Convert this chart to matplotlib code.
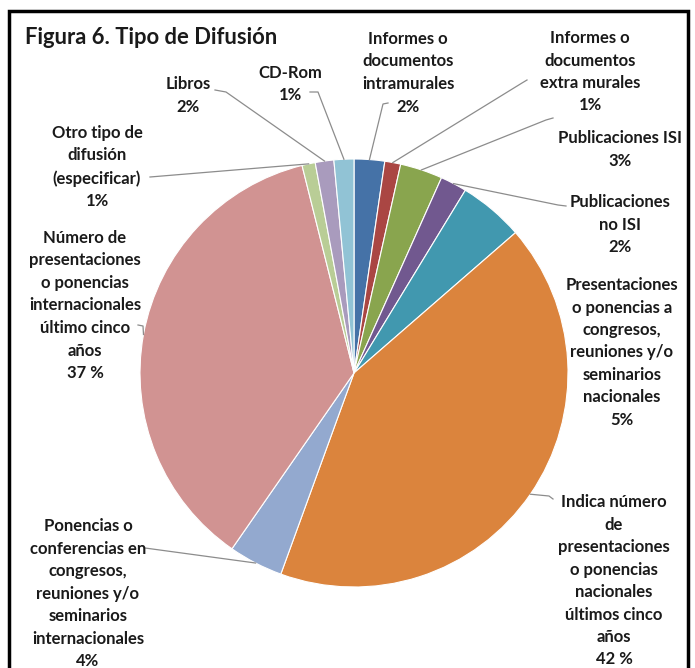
import numpy as np
import matplotlib
matplotlib.use("Agg")
import matplotlib.pyplot as plt

# Datos (porcentajes estimados de la figura, orden horario desde las 12)
categorias = [
    "Informes o\ndocumentos\nintramurales",
    "Informes o\ndocumentos\nextra murales",
    "Publicaciones ISI",
    "Publicaciones\nno ISI",
    "Presentaciones\no ponencias a\ncongresos,\nreuniones y/o\nseminarios\nnacionales",
    "Indica número\nde\npresentaciones\no ponencias\nnacionales\núltimos cinco\naños",
    "Ponencias o\nconferencias en\ncongresos,\nreuniones y/o\nseminarios\ninternacionales",
    "Número de\npresentaciones\no ponencias\ninternacionales\núltimo cinco\naños",
    "Otro tipo de\ndifusión\n(especificar)",
    "Libros",
    "CD-Rom",
]
valores = [2.3, 1.2, 3.2, 2.0, 4.9, 41.9, 4.1, 36.4, 1.0, 1.4, 1.5]
etiquetas_pct = ["2%", "1%", "3%", "2%", "5%", "42 %", "4%", "37 %", "1%", "2%", "1%"]
colores = ["#4572A7", "#AA4643", "#89A54E", "#71588F", "#4198AF", "#DB843D",
           "#93A9CF", "#D19392", "#B9CD96", "#A99BBD", "#91C3D5"]

W, H = 695, 668
fig = plt.figure(figsize=(W / 100, H / 100), dpi=100)
ax = fig.add_axes([0, 0, 1, 1])

def yy(y):
    # coordenadas de imagen -> coordenadas de datos
    return H - y

cx, cy, r = 354, 373, 214
wedges, _ = ax.pie(valores, colors=colores, startangle=90, counterclock=False,
                   center=(cx, yy(cy)), radius=r, frame=True,
                   wedgeprops=dict(linewidth=0.8, edgecolor="white"))
ax.set_xlim(0, W)
ax.set_ylim(0, H)
ax.set_aspect("equal")
ax.axis("off")

# centro de la primera linea de cada texto y arranque de la guia
pos_texto = [(408, 37), (590, 36), (620, 136), (620, 200), (622, 283),
             (614, 500), (88, 524), (85, 236), (97, 131), (188, 82), (290, 71)]
guias = [[(388, 103), (383, 104)], [(527, 80), (522, 83)], [(553, 118), (546, 120)],
         [(566, 206), (558, 205)], None, [(553, 499), (549, 496)],
         [(145, 548)], [(138, 325), (143, 326)], [(150, 177)], [(215, 90), (226, 92)],
         [(310, 92), (318, 92)]]

fuente = "Lato"
fs = 12
for w, cat, pct, (tx, ty), g in zip(wedges, categorias, etiquetas_pct, pos_texto, guias):
    ax.text(tx, yy(ty - 6), cat + "\n" + pct, ha="center", va="top", fontsize=fs,
            fontweight="bold", family=fuente, color="#1a1a1a", linespacing=1.5)
    if g is None:
        continue
    ang = np.deg2rad((w.theta1 + w.theta2) / 2)
    ex, ey = cx + r * np.cos(ang), yy(cy) + r * np.sin(ang)
    xs = [p[0] for p in g] + [ex]
    ys = [yy(p[1]) for p in g] + [ey]
    ax.plot(xs, ys, color="#8c8c8c", linewidth=0.9)

ax.text(25, yy(38), "Figura 6. Tipo de Difusión", ha="left", va="center",
        fontsize=15.8, fontweight="bold", family=fuente, color="#1a1a1a")

# marco
ax.plot([9, 9, 688, 688], [0, yy(11), yy(11), 0], color="black", linewidth=2.5,
        solid_joinstyle="miter")

fig.savefig("out.png", dpi=100)
